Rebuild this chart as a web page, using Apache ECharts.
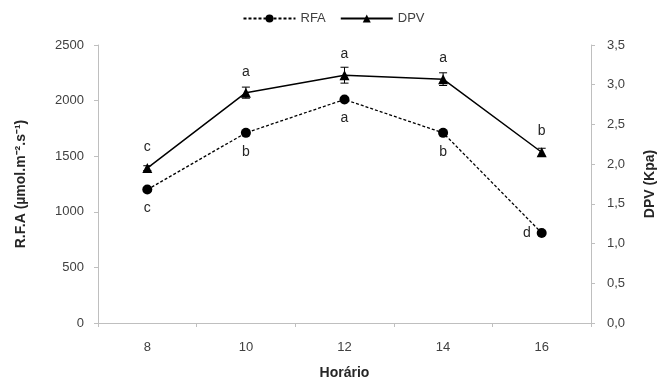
<!DOCTYPE html>
<html lang="pt">
<head>
  <meta charset="UTF-8">
  <title>RFA e DPV</title>
  <script src="https://cdn.jsdelivr.net/npm/echarts@6/dist/echarts.min.js"></script>
  <style>
    html, body { margin: 0; padding: 0; background: #fff; }
  </style>
</head>
<body>
<div id="main" style="width: 667px;height:389px;"></div>
<script type="text/javascript">
    var horas = ['8', '10', '12', '14', '16'];
    var rfa = [1200, 1710, 2010, 1710, 810];
    var rfaLetras = ['c', 'b', 'a', 'b', 'd'];
    var dpv = [1.95, 2.90, 3.12, 3.07, 2.15];
    var dpvErro = [0.03, 0.07, 0.10, 0.08, 0.05];
    var dpvLetras = ['c', 'a', 'a', 'a', 'b'];

    var fonte = 'Liberation Sans';
    var myChart = echarts.init(document.getElementById('main'));

    // pontos com a letra de cada horário
    var rfaData = rfa.map(function (v, i) {
        var item = { value: v, label: { formatter: rfaLetras[i] } };
        if (i === 4) {
            item.label.position = 'left'; // o "d" fica à esquerda
            item.label.distance = 6;
        }
        return item;
    });
    var dpvData = dpv.map(function (v, i) {
        return { value: v, label: { formatter: dpvLetras[i] } };
    });
    var erroData = dpv.map(function (v, i) {
        return [i, v - dpvErro[i], v + dpvErro[i]];
    });

    option = {
        animation: false,
        textStyle: { fontFamily: fonte },
        legend: {
            data: ['RFA', 'DPV'],
            top: 7,
            left: 'center',
            itemWidth: 52,
            itemHeight: 10,
            itemGap: 14,
            textStyle: { color: '#404040', fontSize: 13, fontFamily: fonte }
        },
        grid: {
            left: 98,
            right: 76,
            top: 45,
            bottom: 66
        },
        xAxis: {
            type: 'category',
            data: horas,
            name: 'Horário',
            nameLocation: 'middle',
            nameGap: 43,
            nameTextStyle: { color: '#262626', fontSize: 14, fontWeight: 'bold', fontFamily: fonte },
            axisLine: { lineStyle: { color: '#bfbfbf', width: 1 } },
            axisTick: { show: true, length: 4, lineStyle: { color: '#bfbfbf' } },
            axisLabel: { color: '#404040', fontSize: 13, margin: 18 },
            splitLine: { show: false }
        },
        yAxis: [{
            type: 'value',
            min: 0,
            max: 2500,
            interval: 500,
            name: 'R.F.A (µmol.m⁻².s⁻¹)',
            nameLocation: 'middle',
            nameGap: 70,
            nameTextStyle: { color: '#262626', fontSize: 14, fontWeight: 'bold', fontFamily: fonte },
            axisLine: { show: true, lineStyle: { color: '#bfbfbf', width: 1 } },
            axisTick: { show: true, length: 4, lineStyle: { color: '#bfbfbf' } },
            axisLabel: {
                color: '#404040',
                fontSize: 13,
                margin: 14,
                formatter: function (v) { return String(v); }
            },
            splitLine: { show: false }
        }, {
            type: 'value',
            min: 0,
            max: 3.5,
            interval: 0.5,
            name: 'DPV (Kpa)',
            nameLocation: 'middle',
            nameGap: 52,
            nameRotate: 90,
            nameTextStyle: { color: '#262626', fontSize: 14, fontWeight: 'bold', fontFamily: fonte },
            axisLine: { show: true, lineStyle: { color: '#bfbfbf', width: 1 } },
            axisTick: { show: true, length: 4, lineStyle: { color: '#bfbfbf' } },
            axisLabel: {
                color: '#404040',
                fontSize: 13,
                margin: 16,
                formatter: function (v) { return v.toFixed(1).replace('.', ','); }
            },
            splitLine: { show: false }
        }],
        series: [{
            name: 'RFA',
            type: 'line',
            yAxisIndex: 0,
            symbol: 'circle',
            symbolSize: 10,
            lineStyle: { color: '#000', width: 1.3, type: [3, 2] },
            itemStyle: { color: '#000' },
            label: { show: true, position: 'bottom', distance: 7, color: '#262626', fontSize: 14 },
            data: rfaData
        }, {
            name: 'DPV',
            type: 'line',
            yAxisIndex: 1,
            symbol: 'triangle',
            symbolSize: 10,
            lineStyle: { color: '#000', width: 1.5 },
            itemStyle: { color: '#000' },
            label: { show: true, position: 'top', distance: 9, color: '#262626', fontSize: 14 },
            data: dpvData,
            z: 3
        }, {
            name: 'erro',
            type: 'custom',
            yAxisIndex: 1,
            silent: true,
            renderItem: function (params, api) {
                var x = api.value(0);
                var baixo = api.coord([x, api.value(1)]);
                var alto = api.coord([x, api.value(2)]);
                var w = 4;
                var estilo = { stroke: '#000', lineWidth: 1 };
                return {
                    type: 'group',
                    children: [
                        { type: 'line', shape: { x1: baixo[0], y1: baixo[1], x2: alto[0], y2: alto[1] }, style: estilo },
                        { type: 'line', shape: { x1: alto[0] - w, y1: alto[1], x2: alto[0] + w, y2: alto[1] }, style: estilo },
                        { type: 'line', shape: { x1: baixo[0] - w, y1: baixo[1], x2: baixo[0] + w, y2: baixo[1] }, style: estilo }
                    ]
                };
            },
            encode: { x: 0, y: [1, 2] },
            data: erroData,
            z: 2
        }]
    };

    myChart.setOption(option);
</script>
</body>
</html>
